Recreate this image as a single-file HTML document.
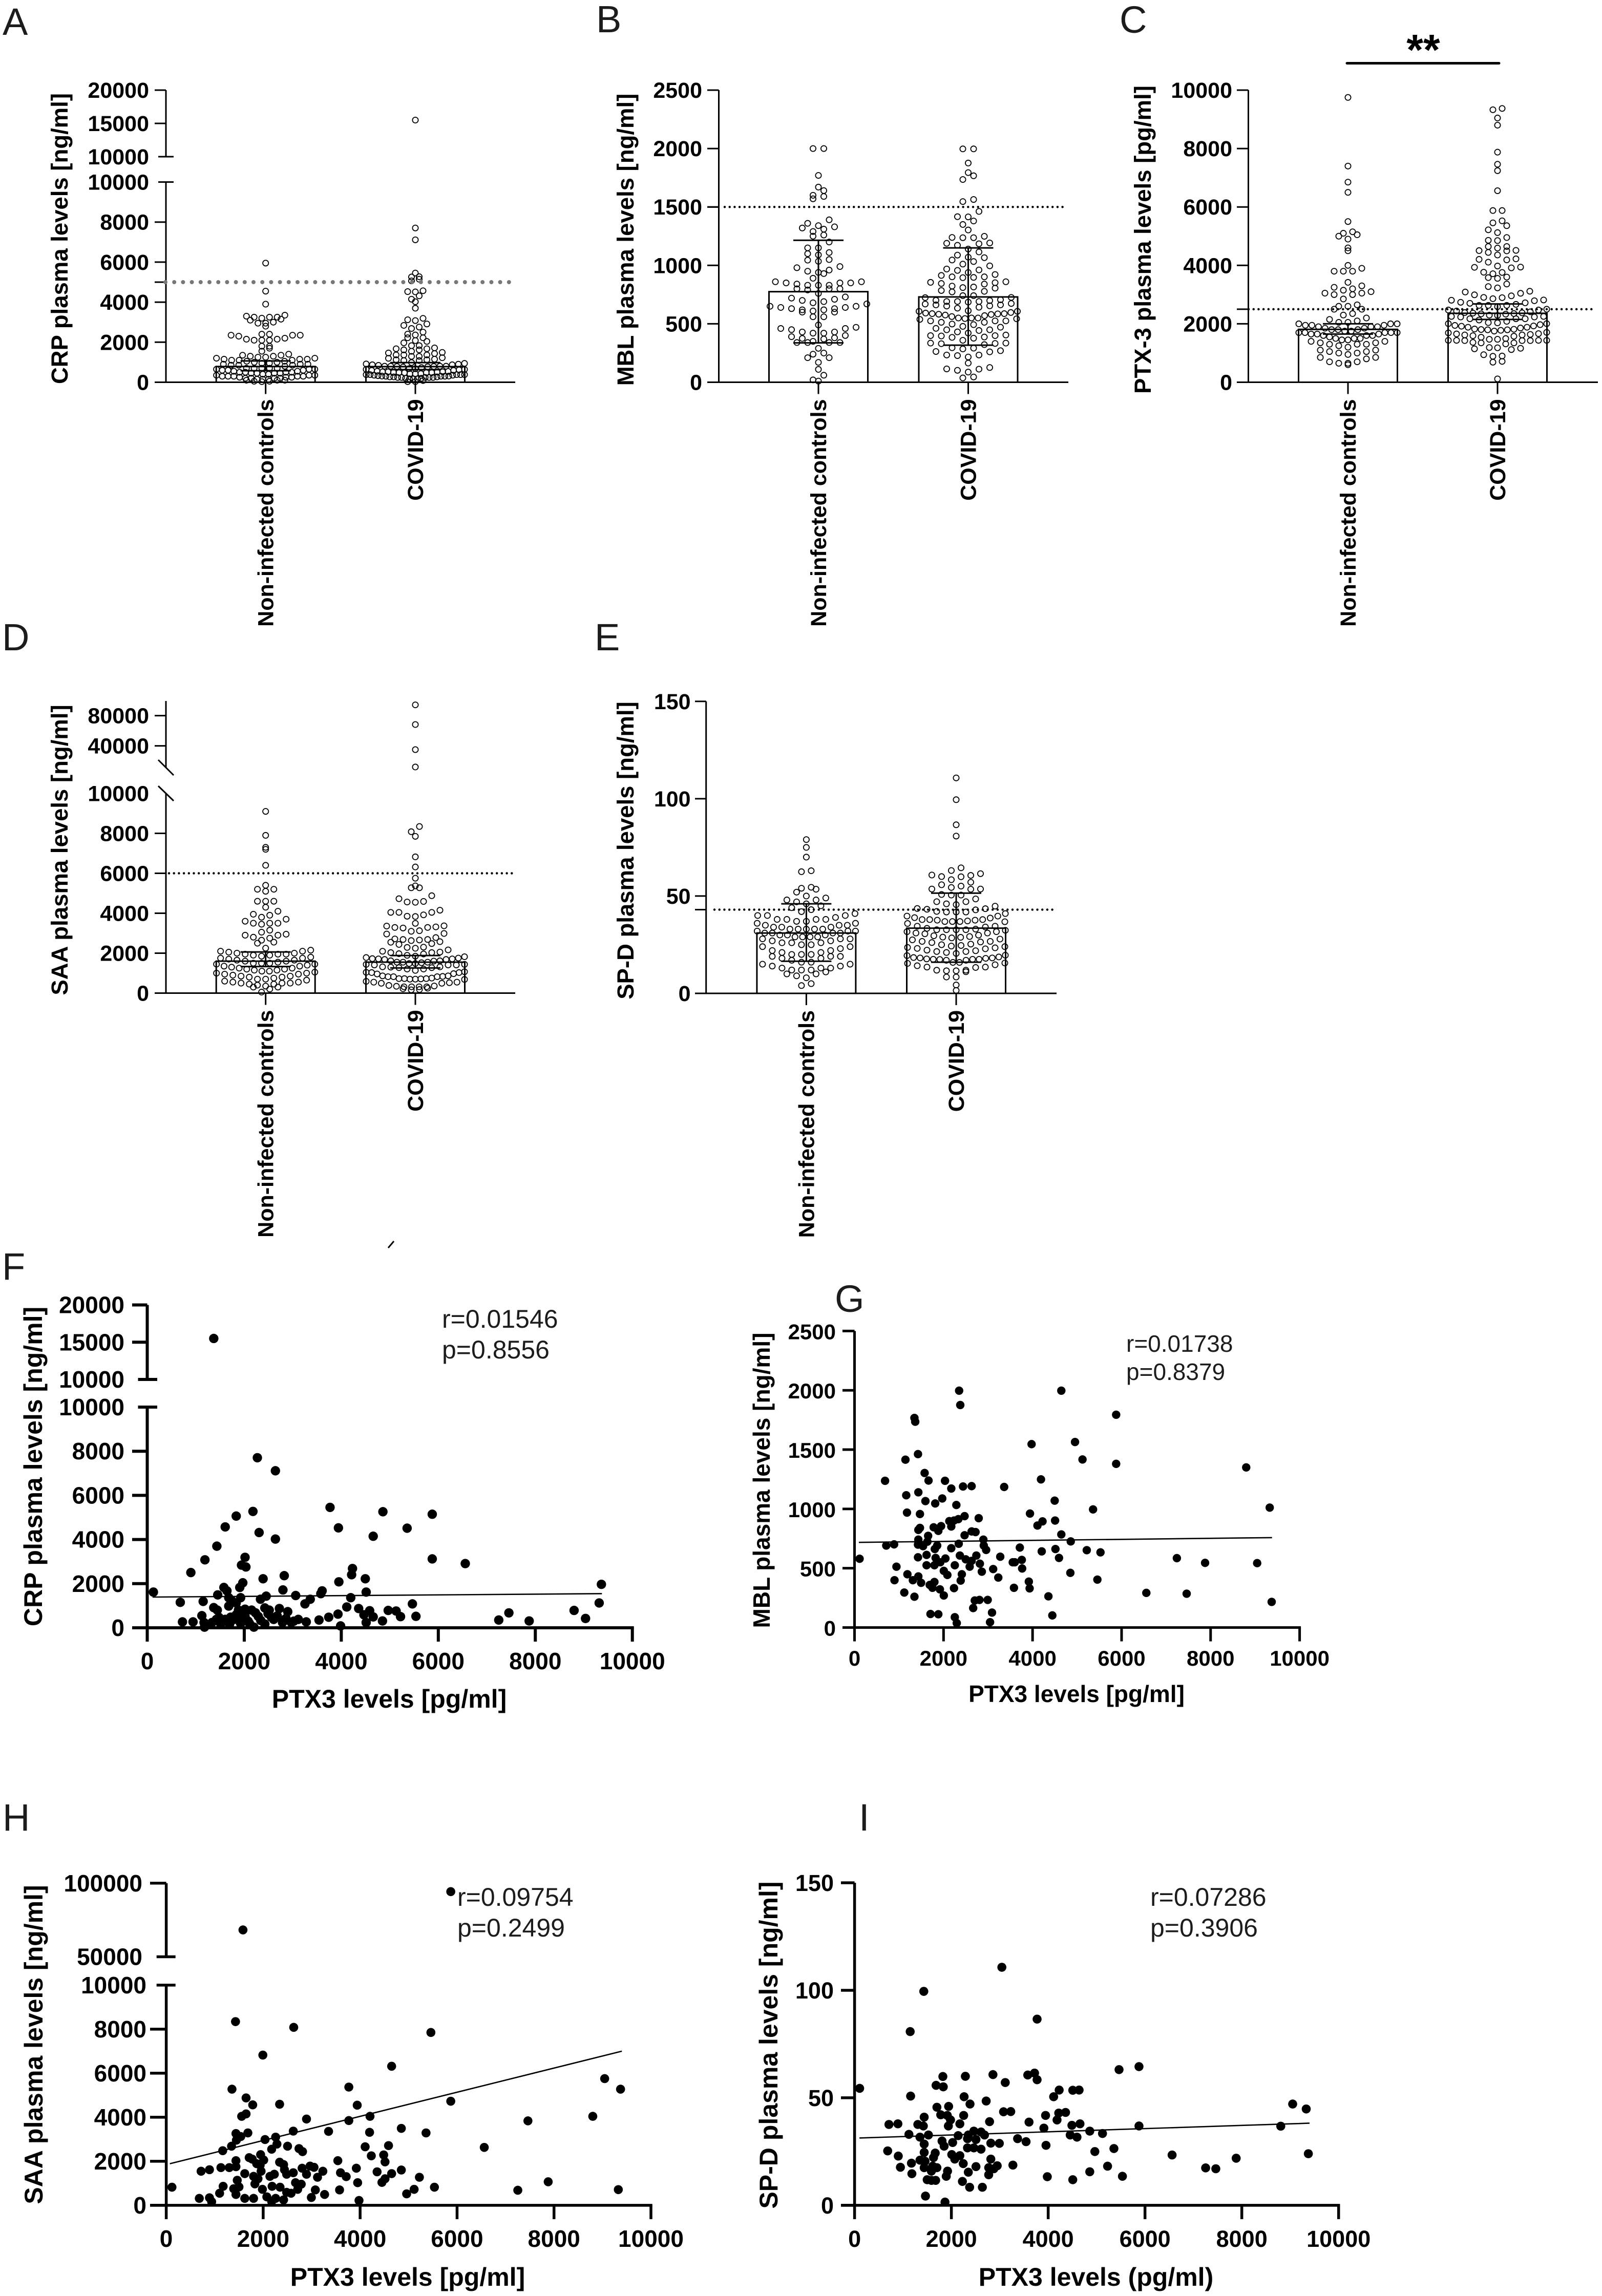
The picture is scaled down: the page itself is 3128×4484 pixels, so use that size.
<!DOCTYPE html>
<html lang="en">
<head>
<meta charset="utf-8">
<title>Plasma levels of CRP, MBL, PTX-3, SAA and SP-D</title>
<style>
html,body{margin:0;padding:0;background:#fff;}
#figure{display:block;font-family:"Liberation Sans",Arial,sans-serif;fill:#000;}
.letter{font-size:74px;fill:#1c1c1c;}
.ytitle{font-weight:700;text-anchor:middle;}
.xtitle{font-weight:700;text-anchor:middle;}
.stat{fill:#1c1c1c;}
</style>
</head>
<body>
<svg id="figure" xmlns="http://www.w3.org/2000/svg" width="3128" height="4484" viewBox="0 0 3128 4484">
<rect x="0" y="0" width="3128" height="4484" fill="#fff"/>
<text class="letter" x="5" y="68">A</text>
<text class="letter" x="1164" y="63">B</text>
<text class="letter" x="2186" y="64">C</text>
<text class="letter" x="4" y="1270">D</text>
<text class="letter" x="1161" y="1270">E</text>
<text class="letter" x="4" y="2499">F</text>
<text class="letter" x="1630" y="2562">G</text>
<text class="letter" x="5" y="3575">H</text>
<text class="letter" x="1677" y="3575">I</text>

<text class="ytitle" font-size="45.5" transform="translate(132,466) rotate(-90)">CRP plasma levels [ng/ml]</text>
<text class="ytitle" font-size="45.5" transform="translate(1237,468) rotate(-90)">MBL plasma levels [ng/ml]</text>
<text class="ytitle" font-size="45.5" transform="translate(2247,468) rotate(-90)">PTX-3 plasma levels [pg/ml]</text>
<text class="ytitle" font-size="45.5" transform="translate(132,1660) rotate(-90)">SAA plasma levels [ng/ml]</text>
<text class="ytitle" font-size="45.5" transform="translate(1237,1661) rotate(-90)">SP-D plasma levels [ng/ml]</text>

<text class="ytitle" font-size="50" transform="translate(82,2864) rotate(-90)">CRP plasma levels [ng/ml]</text>
<text class="ytitle" font-size="46" transform="translate(1503,2891) rotate(-90)">MBL plasma levels [ng/ml]</text>
<text class="ytitle" font-size="50" transform="translate(83,3993) rotate(-90)">SAA plasma levels [ng/ml]</text>
<text class="ytitle" font-size="50" transform="translate(1518,3994) rotate(-90)">SP-D plasma levels [ng/ml]</text>

<text class="xtitle" font-size="50" x="760" y="3335">PTX3 levels [pg/ml]</text>
<text class="xtitle" font-size="46" x="2102" y="3324">PTX3 levels [pg/ml]</text>
<text class="xtitle" font-size="50" x="796" y="4464">PTX3 levels [pg/ml]</text>
<text class="xtitle" font-size="50" x="2140" y="4464">PTX3 levels (pg/ml)</text>

<text class="stat" font-size="50" x="863" y="2593">r=0.01546</text>
<text class="stat" font-size="50" x="863" y="2653">p=0.8556</text>
<text class="stat" font-size="46" x="2199" y="2640">r=0.01738</text>
<text class="stat" font-size="46" x="2199" y="2695">p=0.8379</text>
<text class="stat" font-size="50" x="893" y="3722">r=0.09754</text>
<text class="stat" font-size="50" x="893" y="3782">p=0.2499</text>
<text class="stat" font-size="50" x="2246" y="3722">r=0.07286</text>
<text class="stat" font-size="50" x="2246" y="3782">p=0.3906</text>

<line x1="2630" y1="123.5" x2="2927" y2="123.5" stroke="#000" stroke-width="5" stroke-linecap="round"/>
<text font-size="84" font-weight="700" text-anchor="middle" x="2779" y="126">**</text>
<line x1="769" y1="2424" x2="758" y2="2437" stroke="#000" stroke-width="3"/>
</svg>

<script>
const categories = ['Non-infected controls', 'COVID-19'];

const crpLowerTicks = [0, 2000, 4000, 6000, 8000, 10000];
const crpUpperTicks = [10000, 15000, 20000];
const mblTicks = [0, 500, 1000, 1500, 2000, 2500];
const ptxTicks = [0, 2000, 4000, 6000, 8000, 10000];
const saaLowerTicks = [0, 2000, 4000, 6000, 8000, 10000];
const saaUpperTicks = [40000, 80000];
const spdTicks = [0, 50, 100, 150];
const ptx3AxisTicks = [0, 2000, 4000, 6000, 8000, 10000];
const saaScatterUpperTicks = [50000, 100000];

const crpCutoff = 5000;
const mblCutoff = 1500;
const ptxCutoff = 2500;
const saaCutoff = 6000;
const spdCutoff = 43;

const crpMeans = [785, 780];
const crpErrLow = [575, 630];
const crpErrHigh = [1066, 980];
const mblMeans = [775, 730];
const mblErrLow = [337, 317];
const mblErrHigh = [1215, 1150];
const ptxMeans = [1810, 2360];
const ptxErrLow = [1650, 2150];
const ptxErrHigh = [2000, 2680];
const saaMeans = [1600, 1550];
const saaErrLow = [1330, 1260];
const saaErrHigh = [2060, 1880];
const spdMeans = [31, 33.5];
const spdErrLow = [16.5, 16];
const spdErrHigh = [46, 51.5];

const crpControls = [5950,4550,3900,3350,3300,3250,3200,3250,3150,3100,3250,3000,2950,2950,2800,2400,2400,2350,2350,2350,2300,2200,2150,2100,2100,2100,2150,1800,1800,1700,1550,1400,1350,1350,1300,1300,1250,1200,1250,1200,1150,1150,1150,1100,1100,1100,1050,1050,1000,1000,950,950,900,900,900,850,850,850,800,700,700,700,700,700,650,650,650,600,600,600,550,550,500,500,500,500,450,450,450,450,400,400,350,350,350,300,300,300,300,300,250,250,250,200,200,200,200,150,150,150,100,100,100,50,50,30];
const mblControls = [2000,2000,1770,1670,1640,1600,1590,1570,1390,1360,1340,1330,1320,1310,1290,1260,1250,1200,1150,1150,1110,1100,1090,1050,1045,1035,990,980,960,950,940,930,890,860,860,850,850,850,840,830,830,830,800,800,800,790,760,730,720,710,700,690,680,670,650,650,640,640,630,630,620,620,610,600,600,560,560,490,470,460,460,450,430,430,420,420,400,390,380,375,370,350,340,340,340,340,290,250,240,210,210,170,110,60,20,10];
const ptxControls = [9750,7400,6850,6500,5500,5150,5100,5050,5000,4900,4600,4500,4000,3900,3800,3800,3800,3420,3300,3250,3200,3150,3100,3050,3050,3000,3000,2850,2650,2600,2600,2500,2500,2350,2300,2200,2150,2100,2050,2050,2000,2000,2000,1950,1950,1950,1900,1900,1900,1850,1850,1800,1800,1800,1750,1750,1700,1700,1700,1700,1700,1650,1650,1650,1600,1600,1600,1550,1500,1500,1500,1450,1450,1400,1400,1350,1350,1300,1300,1300,1250,1200,1100,1100,1050,1050,1000,1000,950,850,850,800,700,700,650,650,600];
const saaControls = [9100,7900,7300,7200,6400,5400,5200,5200,5100,4600,4600,4600,4300,4100,3950,3900,3800,3700,3600,3500,3500,3500,3450,3150,3050,2950,2900,2900,2800,2750,2650,2550,2500,2250,2150,2100,2100,2050,2000,2000,1950,1950,1950,1900,1900,1850,1800,1750,1750,1700,1650,1650,1600,1600,1550,1500,1500,1500,1450,1450,1400,1350,1350,1300,1250,1250,1200,1200,1150,1150,1100,1100,1050,1000,1000,950,950,900,850,850,800,800,750,700,700,650,600,550,550,500,500,500,450,450,400,350,300,300,200,50];
const spdControls = [79,75,70,63,62.5,54.5,54,53.5,52,50,49,48,48,47,46,45,44,43,42,41,40,40,40,39,38,38,38,38,37,37,36,36,35,35,35,34,34,34,33,33,33,33,33,32,32,32,31,31,31,31,30,30,30,29,29,29,29,28,28,28,27,27,26,26,26,25,25,24,24,23,22,22,21,21,20,20,20,19,19,19,18,18,17,16,16,15,15,14,14,13,13,13,12,12,12,11,10,10,9,8,5,4];

const crpScatterPtx3 = [1371,2270,2642,3768,4858,5875,2179,1834,1607,3941,5357,2306,4658,2642,1435,1189,2016,5875,6556,1943,2034,899,4231,4213,2824,2388,4495,3950,1970,9362,1907,1580,1643,127,2797,3605,3578,4513,1453,3060,2452,1925,1680,4195,3360,2334,1153,681,1743,3251,5466,9316,1680,1834,1371,4113,2724,2424,1444,4358,2515,4585,4967,5130,7455,8799,3932,2896,2152,1880,2016,5221,5539,4658,4467,3741,3541,7246,9035,7873,1126,726,944,1171,4849,4513,3278,3114,2606,2788,2969,2288,1789,1607,1426,1335,1516,1698,1925,2107,2424,1180,2198,3986,2016,1834,1480,1560,1720,1850,1990,2080,2230,2340,2490,2560,2680,2860,3020];
const crpScatterLevels = [15500,7705,7114,5455,5258,5146,5272,5062,4570,4527,4513,4316,4148,4021,3698,3079,3192,3121,2910,2840,2756,2503,2685,2404,2362,2221,2221,2081,2039,1968,1828,1828,1673,1617,1715,1673,1547,1617,1490,1462,1434,1364,1364,1364,1293,1293,1195,1153,1223,1083,1083,1125,984,1125,914,942,872,900,801,872,801,773,787,759,675,787,619,731,801,801,843,506,520,492,590,478,351,351,422,309,548,267,267,239,309,239,267,380,380,239,239,520,380,380,380,239,169,169,197,197,169,30,30,84,520,590,470,300,480,430,640,300,680,330,640,480,540,420,300];
const crpFitX = [109, 9373];
const crpFitY = [1392, 1547];

const mblScatterPtx3 = [114,686,713,889,898,942,1144,1162,1118,1179,1188,1311,1346,1346,1364,1426,1434,1470,1434,1470,1434,1426,1540,1426,1434,1496,1575,1663,1593,1813,1971,2033,2174,2438,2631,3362,2288,1778,1945,1883,2130,2174,2235,2332,2473,2790,2473,2631,2719,1654,1637,1857,1804,2341,2174,2895,2904,2957,1619,1822,2042,2367,2499,2737,2631,1927,1619,1795,2253,2587,2816,2006,2086,2411,2860,3115,3230,2385,1795,1690,1751,1918,2235,2006,2702,2807,2992,2666,3089,1707,1883,2253,2297,3045,2350,2376,3978,4646,4954,5122,5878,5878,8800,9328,4189,4497,5359,3942,4224,4110,4506,4646,4858,3714,4514,4206,5218,5526,3274,3758,3555,3600,4594,3766,4849,5456,3916,3582,3934,4356,4444,6556,7462,7242,7876,9046,9372];
const mblScatterLevels = [580,1237,691,701,399,513,1415,1115,295,969,449,399,260,1767,1735,1462,1140,957,823,840,741,699,686,592,431,377,1303,1239,1066,1046,1088,1237,1172,1189,1192,1185,1033,845,855,815,897,852,902,914,939,922,778,810,805,773,724,691,662,706,669,741,691,654,612,587,582,607,575,607,562,550,525,525,525,513,538,478,443,449,471,493,421,396,384,359,335,322,332,270,228,233,233,164,126,114,112,87,37,45,1997,1876,1546,1997,1564,1417,1794,1380,1350,1011,1249,1070,996,961,895,860,902,785,726,674,662,642,652,634,597,570,550,550,587,498,461,404,387,335,330,263,102,292,285,585,545,543,216];
const mblFitX = [97, 9380];
const mblFitY = [718, 758];

const saaScatterPtx3 = [5870,1583,1429,2630,5460,1993,4650,3767,1356,9045,9373,5870,1647,1784,2339,3940,1647,1556,4204,8800,2894,3767,7462,4850,3349,2621,4195,5360,1438,1684,1538,1447,2257,2038,2284,1347,2503,4104,4586,6561,2175,2739,1165,2812,1947,4231,4486,1711,1775,2011,1438,3540,4514,1866,1938,2339,2421,1438,1301,1128,892,719,2439,2803,2967,3049,3922,4850,3231,1957,2230,1620,3595,2621,2894,2484,4350,4650,3121,3713,5223,2139,1802,1893,4514,1465,4450,3949,2667,2785,1829,7880,1174,1501,2184,2348,5533,118,1392,1984,3576,3076,5114,2712,7253,9327,1101,2484,2575,4960,3267,1438,2994,2075,682,1620,1802,892,2257,2421,3977,937,2175];
const saaScatterLevels = [94260,68240,8343,8083,7850,6823,6316,5370,5275,5754,5275,4727,4877,4562,4590,4548,4151,4042,4042,4042,3918,3850,3836,3494,3357,3370,3315,3288,3260,3288,3124,2959,3096,2987,2781,2685,2685,2658,2713,2630,2548,2576,2480,2439,2302,2247,2288,2165,2096,2055,2028,2028,1973,1891,1822,1959,1850,1754,1713,1713,1617,1548,1617,1685,1781,1726,1685,1603,1548,1548,1411,1439,1480,1480,1411,1411,1521,1439,1274,1302,1274,1315,1315,1206,1206,1137,1041,1028,1028,959,973,1069,863,836,863,822,822,822,753,726,699,699,726,726,685,712,548,589,548,521,493,493,356,384,315,315,315,342,315,247,219,164,178];
const saaSwarmExtras = [35000, 12000];
const saaFitX = [75, 9400];
const saaFitY = [1890, 7000];

const spdScatterPtx3 = [3043,1430,3771,1149,5876,5464,1824,2289,2859,3578,3718,3771,3113,1684,1833,105,4227,4508,4639,1158,2263,4113,2719,2385,9051,9331,1701,1943,3078,3227,4359,4218,1438,1780,1916,2254,3946,4183,1982,2789,3604,710,895,1307,1421,1938,2175,4490,4657,5876,8805,3911,4859,5122,1123,1526,2140,2350,2464,2613,2684,4455,4595,1351,3368,2333,1807,2508,2026,3543,1438,2815,2991,3955,1850,2333,2464,2613,684,5358,4964,1438,1666,9375,6560,2008,903,2175,1631,2070,2815,7884,1351,1456,1175,2245,3271,5227,1614,947,1438,1701,2508,2771,2947,7253,7463,2877,1921,1587,2350,4859,1184,2771,1894,3982,5534,1500,4508,1587,1675,2228,2377,2640,1465,1868];
const spdScatterLevels = [110.7,99.5,86.6,80.8,64.5,63.1,59.9,60,60.8,60.6,61.5,58.4,57.1,55.8,55.1,54.4,53.6,53.5,53.6,50.8,50.5,50.5,48.5,47.1,47.1,44.8,45.6,46,43.5,43.6,43.2,42.9,41,42.1,41.8,41.8,41.8,39.7,39.7,38.9,38.7,37.6,37.9,37.6,36.9,36.9,37.9,37.2,37.9,36.9,36.8,35.9,34.5,33.4,33,32.7,32.4,32.7,34.5,34.1,32.7,32.7,31.7,31.7,31,31,29.9,30.6,29.2,29.6,28.5,28.9,28.8,27.9,27.5,26.7,26.7,26.1,25.3,26.4,25,24.6,24.3,24,23.4,23.6,22.9,23.1,22.2,21.5,21.5,21.9,21,20.5,19.6,19.4,18.7,18.2,18.2,17.7,17.5,17.5,18,17.5,18.4,17.4,17,17,15.9,15.9,15.4,15.6,14.7,14.2,13.5,13.3,13.5,11.9,11.9,11.6,11.6,11.1,8.4,8.4,4.3,1.5];
const spdFitX = [100, 9400];
const spdFitY = [31.3, 38.2];

const SVGNS = 'http://www.w3.org/2000/svg';
const figure = document.getElementById('figure');

function mk(tag, geometry, parent) {
  const el = document.createElementNS(SVGNS, tag);
  Object.keys(geometry).forEach(function (k) { el.setAttribute(k, geometry[k]); });
  parent.appendChild(el);
  return el;
}

function pieceScale(segments) {
  return function (v) {
    let seg = segments[0];
    for (let i = 0; i < segments.length; i++) {
      if (v > segments[i].d[0]) seg = segments[i];
    }
    return seg.r[0] + (v - seg.d[0]) * (seg.r[1] - seg.r[0]) / (seg.d[1] - seg.d[0]);
  };
}

function linearScale(d, r) {
  return function (v) { return r[0] + (v - d[0]) * (r[1] - r[0]) / (d[1] - d[0]); };
}

function swarmLayout(values, y, cx, step, binH, maxHalf) {
  const bins = new Map();
  values.forEach(function (v) {
    const py = y(v);
    const key = Math.round(py / binH);
    if (!bins.has(key)) bins.set(key, []);
    bins.get(key).push({ v: v, py: py });
  });
  const out = [];
  bins.forEach(function (list) {
    list.sort(function (a, b) { return a.v - b.v; });
    const n = list.length;
    const s = n > 1 ? Math.min(step, 2 * maxHalf / (n - 1)) : step;
    const slots = [];
    for (let k = 0; k < n; k++) slots.push(k - (n - 1) / 2);
    slots.sort(function (a, b) { return Math.abs(a) - Math.abs(b) || a - b; });
    list.forEach(function (p, i) { out.push({ x: cx + slots[i] * s, y: p.py, v: p.v }); });
  });
  return out;
}

function drawTickLabel(parent, value, x, y, size, anchor) {
  const t = mk('text', { x: x, y: y, 'font-size': size, 'font-weight': 700, 'text-anchor': anchor }, parent);
  
  
  t.textContent = String(value);
  return t;
}

function drawTick(parent, x1, y1, x2, y2, width) {
  const l = mk('line', { x1: x1, y1: y1, x2: x2, y2: y2, stroke: '#000', 'stroke-width': width }, parent);
  
  
  return l;
}

function drawAxisLine(parent, x1, y1, x2, y2, width) {
  const l = mk('line', { x1: x1, y1: y1, x2: x2, y2: y2, stroke: '#000', 'stroke-width': width }, parent);
  
  
  return l;
}

function drawBarPanel(p) {
  const g = mk('g', {}, figure);
  
  
  const y = pieceScale(p.segments);
  const lowerY = linearScale(p.segments[0].d, p.segments[0].r);
  const y0 = y(0);

  p.groups.forEach(function (values, i) {
    const cx = p.cx[i];
    const bar = mk('rect', { x: cx - p.barW / 2, y: y(p.means[i]), width: p.barW, height: y0 - y(p.means[i]), fill: 'none', stroke: '#000', 'stroke-width': 3 }, g);
    
    

    swarmLayout(values, y, cx, p.step, p.binH, p.maxHalf).forEach(function (pt) {
      const c = mk('circle', { cx: pt.x, cy: pt.y, r: 5.6, fill: 'none', stroke: '#000', 'stroke-width': 1.8 }, g);
      
      
    });

    const stem = mk('line', { x1: cx, y1: y(p.errLow[i]), x2: cx, y2: y(p.errHigh[i]), stroke: '#000', 'stroke-width': 3 }, g);
    
    
    [p.errLow[i], p.errHigh[i]].forEach(function (v) {
      const cap = mk('line', { x1: cx - 49, y1: y(v), x2: cx + 49, y2: y(v), stroke: '#000', 'stroke-width': 3 }, g);
      
      
    });

    drawTick(g, cx, y0, cx, y0 + 23, 3);
    const label = mk('text', { 'font-size': 43, 'font-weight': 700, 'text-anchor': 'end', transform: 'translate(' + (cx + 15) + ',' + (y0 + 33) + ') rotate(-90)' }, g);
    
    
    label.textContent = categories[i];
  });

  p.spans.forEach(function (s) { drawAxisLine(g, p.baseX, s[0], p.baseX, s[1], 3); });
  drawAxisLine(g, p.tickLeft, y0, p.xEnd, y0, 3);

  p.tickSets.forEach(function (ticks) {
    ticks.forEach(function (v, idx) {
      const isLowerSet = ticks === p.tickSets[0];
      const isBreak = p.breakTicks && ((isLowerSet && idx === ticks.length - 1) || (!isLowerSet && idx === 0));
      const yy = isLowerSet ? lowerY(v) : p.upperY(v);
      if (isBreak) drawTick(g, p.baseX - 15, yy, p.baseX + 15, yy, 3);
      else if (!(p.slashes && isLowerSet && idx === ticks.length - 1)) drawTick(g, p.tickLeft, yy, p.baseX, yy, 3);
      drawTickLabel(g, v, p.labelRight, yy + 15, 43, 'end');
    });
  });

  if (p.slashes) {
    p.slashes.forEach(function (s) {
      const sl = mk('line', { x1: s[0], y1: s[1], x2: s[2], y2: s[3], stroke: '#000', 'stroke-width': 3 }, g);
      
      
    });
  }

  drawTick(g, p.tickLeft, y(p.cutoff), p.baseX, y(p.cutoff), 3);
  const dotted = mk('line', { x1: p.cutFrom, y1: y(p.cutoff), x2: p.cutTo, y2: y(p.cutoff), stroke: p.cutColor, 'stroke-width': p.cutWidth, 'stroke-linecap': 'round', 'stroke-dasharray': '0 ' + p.cutGap }, g);
  
  
}

function drawScatterPanel(p) {
  const g = mk('g', {}, figure);
  
  
  const x = linearScale([0, 10000], p.xRange);
  const y = pieceScale(p.segments);
  const lowerY = linearScale(p.segments[0].d, p.segments[0].r);
  const y0 = y(0);

  p.xs.forEach(function (xv, i) {
    if (p.ys[i] === undefined) return;
    const c = mk('circle', { cx: x(xv), cy: y(p.ys[i]), r: p.r, fill: '#000' }, g);
    
    
  });

  const fit = mk('line', { x1: x(p.fitX[0]), y1: y(p.fitY[0]), x2: x(p.fitX[1]), y2: y(p.fitY[1]), stroke: '#000', 'stroke-width': 2.6 }, g);
  
  

  p.spans.forEach(function (s) { drawAxisLine(g, p.xRange[0], s[0], p.xRange[0], s[1], p.sw); });
  drawAxisLine(g, p.tickLeft, y0, p.xRange[1] + p.sw / 2, y0, p.sw);

  ptx3AxisTicks.forEach(function (v) {
    drawTick(g, x(v), y0, x(v), y0 + 27, p.sw);
    drawTickLabel(g, v, x(v), p.xLabelY, p.labelSize, 'middle');
  });

  p.tickSets.forEach(function (ticks) {
    ticks.forEach(function (v, idx) {
      const isLowerSet = ticks === p.tickSets[0];
      const isBreak = p.breakTicks && ((isLowerSet && idx === ticks.length - 1) || (!isLowerSet && idx === 0));
      const yy = isLowerSet ? lowerY(v) : p.upperY(v);
      if (isBreak) drawTick(g, p.breakLeft, yy, p.breakRight, yy, p.sw);
      else drawTick(g, p.tickLeft, yy, p.xRange[0], yy, p.sw);
      const right = isLowerSet ? p.labelRight : p.upperLabelRight;
      drawTickLabel(g, v, right, yy + 16, p.labelSize, 'end');
    });
  });
}

drawBarPanel({
  key: 'crp', cx: [518.7, 811], barW: 193, baseX: 324, tickLeft: 302, xEnd: 1006, labelRight: 291,
  segments: [{ d: [0, 10000], r: [746.5, 355.5] }, { d: [10000, 20000], r: [306, 176] }],
  upperY: linearScale([10000, 20000], [306, 176]),
  spans: [[748, 355.5], [306, 176]], tickSets: [crpLowerTicks, crpUpperTicks], breakTicks: true,
  groups: [crpControls, crpScatterLevels], means: crpMeans, errLow: crpErrLow, errHigh: crpErrHigh,
  cutoff: crpCutoff, cutFrom: 323, cutTo: 996, cutColor: '#777', cutWidth: 8, cutGap: 17.2,
  step: 15, binH: 11, maxHalf: 96
});
drawBarPanel({
  key: 'mbl', cx: [1598, 1890.5], barW: 193, baseX: 1403.5, tickLeft: 1381, xEnd: 2086, labelRight: 1371,
  segments: [{ d: [0, 2500], r: [746.5, 176] }],
  spans: [[748, 176]], tickSets: [mblTicks],
  groups: [mblControls, mblScatterLevels], means: mblMeans, errLow: mblErrLow, errHigh: mblErrHigh,
  cutoff: mblCutoff, cutFrom: 1415, cutTo: 2081, cutColor: '#000', cutWidth: 4.5, cutGap: 9.7,
  step: 21, binH: 15, maxHalf: 96
});
drawBarPanel({
  key: 'ptx3', cx: [2632, 2924], barW: 193, baseX: 2437.5, tickLeft: 2415, xEnd: 3120, labelRight: 2406,
  segments: [{ d: [0, 10000], r: [746.5, 176] }],
  spans: [[748, 176]], tickSets: [ptxTicks],
  groups: [ptxControls, mblScatterPtx3], means: ptxMeans, errLow: ptxErrLow, errHigh: ptxErrHigh,
  cutoff: ptxCutoff, cutFrom: 2438, cutTo: 3116, cutColor: '#000', cutWidth: 4.5, cutGap: 9.7,
  step: 18, binH: 16, maxHalf: 96
});
drawBarPanel({
  key: 'saa', cx: [518.7, 811], barW: 193, baseX: 324, tickLeft: 302, xEnd: 1006, labelRight: 291,
  segments: [{ d: [0, 10000], r: [1939.5, 1549.5] }, { d: [10000, 80000], r: [1500.85, 1397.6] }],
  upperY: linearScale([40000, 80000], [1456.6, 1397.6]),
  spans: [[1941, 1549], [1499, 1369]], tickSets: [saaLowerTicks, saaUpperTicks],
  slashes: [[309, 1484, 339, 1514], [309, 1535, 339, 1564]],
  groups: [saaControls, saaScatterLevels.concat(saaSwarmExtras)], means: saaMeans, errLow: saaErrLow, errHigh: saaErrHigh,
  cutoff: saaCutoff, cutFrom: 330, cutTo: 1002, cutColor: '#000', cutWidth: 4.5, cutGap: 9.7,
  step: 16, binH: 15, maxHalf: 96
});
drawBarPanel({
  key: 'spd', cx: [1574.4, 1867], barW: 193, baseX: 1378.7, tickLeft: 1357, xEnd: 2063, labelRight: 1348.6,
  segments: [{ d: [0, 150], r: [1940, 1369.8] }],
  spans: [[1941.5, 1369.8]], tickSets: [spdTicks],
  groups: [spdControls, spdScatterLevels], means: spdMeans, errLow: spdErrLow, errHigh: spdErrHigh,
  cutoff: spdCutoff, cutFrom: 1395, cutTo: 2059, cutColor: '#000', cutWidth: 4.5, cutGap: 9.7,
  step: 19, binH: 16, maxHalf: 96
});

drawScatterPanel({
  key: 'crp', xRange: [287.5, 1234.7], sw: 6, r: 9.2, tickLeft: 258, labelRight: 243, upperLabelRight: 243,
  segments: [{ d: [0, 10000], r: [3179, 2748] }, { d: [10000, 20000], r: [2694, 2548.5] }],
  upperY: linearScale([10000, 20000], [2694, 2548.5]),
  spans: [[3182, 2748], [2694, 2548.5]], tickSets: [crpLowerTicks, crpUpperTicks], breakTicks: true, breakLeft: 269.5, breakRight: 307,
  xs: crpScatterPtx3, ys: crpScatterLevels, fitX: crpFitX, fitY: crpFitY, xLabelY: 3260, labelSize: 46
});
drawScatterPanel({
  key: 'mbl', xRange: [1668.5, 2537.6], sw: 5, r: 8.2, tickLeft: 1645, labelRight: 1632, upperLabelRight: 1632,
  segments: [{ d: [0, 2500], r: [3178.5, 2599.4] }],
  spans: [[3181, 2599.4]], tickSets: [mblTicks],
  xs: mblScatterPtx3, ys: mblScatterLevels, fitX: mblFitX, fitY: mblFitY, xLabelY: 3253, labelSize: 42
});
drawScatterPanel({
  key: 'saa', xRange: [324.6, 1271], sw: 5.5, r: 8.8, tickLeft: 293, labelRight: 286, upperLabelRight: 278,
  segments: [{ d: [0, 10000], r: [4306.9, 3876.9] }, { d: [50000, 100000], r: [3821.5, 3677.8] }],
  upperY: linearScale([50000, 100000], [3821.5, 3677.8]),
  spans: [[4309.5, 3876.9], [3821.5, 3677.8]], tickSets: [saaLowerTicks, saaScatterUpperTicks], breakTicks: true, breakLeft: 305.7, breakRight: 342.7,
  xs: saaScatterPtx3, ys: saaScatterLevels, fitX: saaFitX, fitY: saaFitY, xLabelY: 4388, labelSize: 46
});
drawScatterPanel({
  key: 'spd', xRange: [1668.6, 2613.7], sw: 5.5, r: 8.8, tickLeft: 1642, labelRight: 1628, upperLabelRight: 1628,
  segments: [{ d: [0, 150], r: [4306.9, 3677] }],
  spans: [[4309.5, 3677]], tickSets: [spdTicks],
  xs: spdScatterPtx3, ys: spdScatterLevels, fitX: spdFitX, fitY: spdFitY, xLabelY: 4388, labelSize: 45
});
</script>
</body>
</html>
